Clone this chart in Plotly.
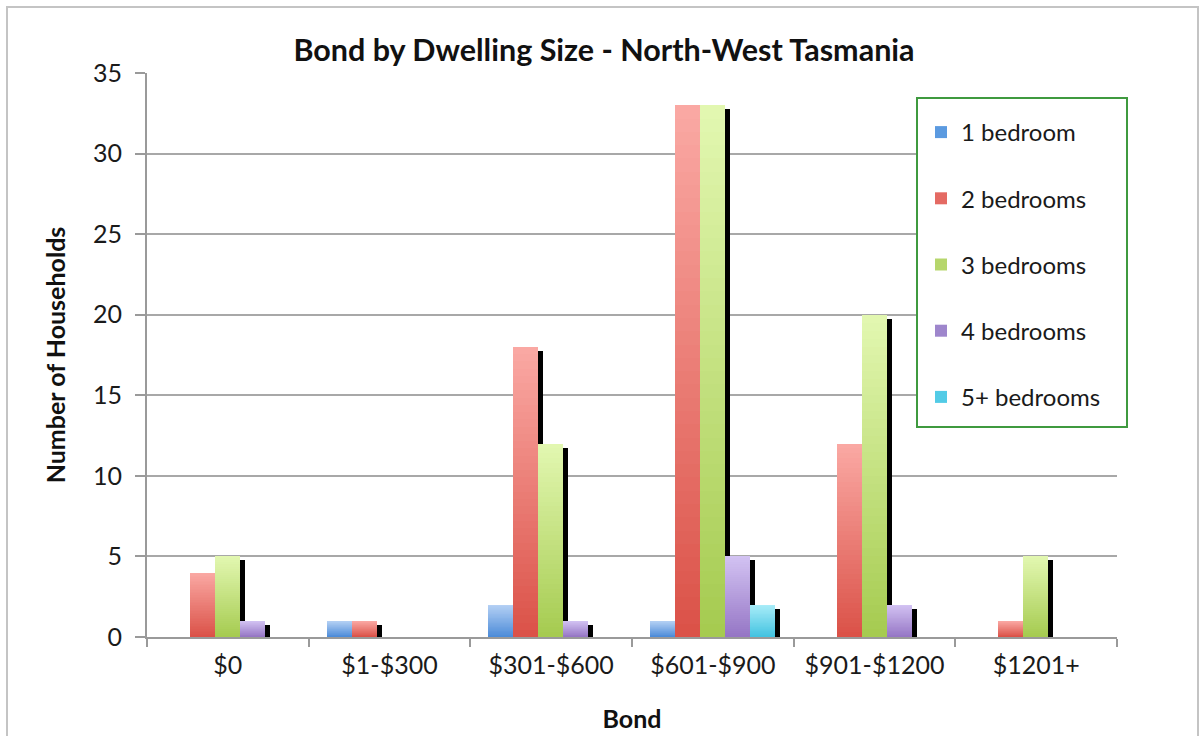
import plotly.graph_objects as go

# Bond ranges and household counts per dwelling size
categories = ["$0", "$1-$300", "$301-$600", "$601-$900", "$901-$1200", "$1201+"]
series_names = ["1 bedroom", "2 bedrooms", "3 bedrooms", "4 bedrooms", "5+ bedrooms"]
one_bed = [0, 1, 2, 1, 0, 0]
two_bed = [4, 1, 18, 33, 12, 1]
three_bed = [5, 0, 12, 33, 20, 5]
four_bed = [1, 0, 1, 5, 2, 0]
five_plus = [0, 0, 0, 2, 0, 0]
y_ticks = [0, 5, 10, 15, 20, 25, 30, 35]

series_values = [one_bed, two_bed, three_bed, four_bed, five_plus]
# (top colour, bottom colour) of each bar's vertical gradient
gradients = [
    ("#b4d0f4", "#4a8ad8"),
    ("#faa8a3", "#da5046"),
    ("#e2f7b0", "#a4ca4e"),
    ("#d2c2f2", "#9474c4"),
    ("#a8ecf8", "#40c2e0"),
]
legend_colors = ["#5b9ae0", "#e46a63", "#b6d66c", "#9e86cc", "#52cbe6"]

FONT = "Lato"
BAR_W = 0.1546
FIRST_OFF = -0.388
SHADOW_DX = 0.031
SHADOW_DY = 0.25
STEPS = 40


def hex_to_rgb(h):
    h = h.lstrip("#")
    return tuple(int(h[i:i + 2], 16) for i in (0, 2, 4))


def mix(c_top, c_bot, t):
    a, b = hex_to_rgb(c_top), hex_to_rgb(c_bot)
    r = [round(b[i] + (a[i] - b[i]) * t) for i in range(3)]
    return "rgb({},{},{})".format(*r)


fig = go.Figure()

# drop shadows, drawn first so neighbouring bars cover them
for i, vals in enumerate(series_values):
    fig.add_trace(go.Bar(
        x=categories, y=vals, base=[-SHADOW_DY] * len(vals),
        width=BAR_W, offset=FIRST_OFF + i * BAR_W + SHADOW_DX,
        marker=dict(color="#000000", line=dict(width=0)),
        showlegend=False, hoverinfo="skip",
    ))

# gradient bars: full-height light layer first, then ever shorter darker layers
for i, (name, vals) in enumerate(zip(series_names, series_values)):
    top, bot = gradients[i]
    for j in range(STEPS, 0, -1):
        frac = j / STEPS
        fig.add_trace(go.Bar(
            x=categories, y=[v * frac for v in vals],
            width=BAR_W, offset=FIRST_OFF + i * BAR_W,
            marker=dict(color=mix(top, bot, frac), line=dict(width=0)),
            showlegend=False, legendgroup=name,
            hoverinfo="skip" if j < STEPS else None,
            name=name,
        ))
    # legend swatch
    fig.add_trace(go.Bar(
        x=[None], y=[None], name=name, legendgroup=name,
        marker=dict(color=legend_colors[i], line=dict(width=0)),
        showlegend=True,
    ))

# plot area: left 147px, right 1117px, top 73px, bottom 637px
L, R, T, B = 147, 1117, 73, 637
W, H = 1201, 736
pw, ph = R - L, B - T


def px(xp):
    return (xp - L) / pw


def py(yp):
    return (B - yp) / ph


fig.update_layout(
    width=W, height=H,
    margin=dict(l=L, r=W - R, t=T, b=H - B, pad=0, autoexpand=False),
    barmode="overlay",
    bargap=0,
    paper_bgcolor="white",
    plot_bgcolor="white",
    font=dict(family=FONT, color="#1a1a1a"),
    title=dict(
        text="<b>Bond by Dwelling Size - North-West Tasmania</b>",
        x=px(604), xref="paper", xanchor="center",
        y=1 - 50 / H, yref="container", yanchor="middle",
        font=dict(family=FONT, size=30.5, color="#111111"),
    ),
    xaxis=dict(
        type="category",
        categoryorder="array", categoryarray=categories,
        range=[-0.5, len(categories) - 0.5],
        automargin=False,
        showgrid=False,
        showline=True, linecolor="#9a9a9a", linewidth=2,
        ticks="outside", tickson="boundaries", ticklen=8,
        tickcolor="#9a9a9a", tickwidth=2,
        ticklabelstandoff=5,
        tickfont=dict(family=FONT, size=25, color="#1a1a1a"),
        title=dict(text="<b>Bond</b>", standoff=32,
                   font=dict(family=FONT, size=25, color="#111111")),
        fixedrange=True,
    ),
    yaxis=dict(
        range=[0, 35],
        tickvals=y_ticks,
        automargin=False,
        showgrid=True, gridcolor="#a8a8a8", gridwidth=1.5,
        zeroline=False,
        showline=True, linecolor="#9a9a9a", linewidth=2,
        ticks="outside", ticklen=10, tickcolor="#9a9a9a", tickwidth=2,
        ticklabelstandoff=8,
        tickfont=dict(family=FONT, size=25, color="#1a1a1a"),
        title=dict(text="<b>Number of Households</b>", standoff=20,
                   font=dict(family=FONT, size=25, color="#111111")),
        fixedrange=True,
    ),
    legend=dict(
        x=px(921), xanchor="left",
        y=py(110), yanchor="top",
        bgcolor="rgba(0,0,0,0)",
        borderwidth=0,
        font=dict(family=FONT, size=24, color="#1a1a1a"),
        traceorder="grouped",
        tracegroupgap=32,
        itemwidth=30,
        itemsizing="constant",
    ),
    shapes=[
        # outer chart frame
        dict(type="rect", xref="paper", yref="paper",
             x0=px(7), x1=px(1198), y0=py(745), y1=py(7),
             line=dict(color="#c4c4c4", width=2), layer="below"),
        # legend box
        dict(type="rect", xref="paper", yref="paper",
             x0=px(917), x1=px(1127), y0=py(427), y1=py(98),
             line=dict(color="#3f9a3f", width=2), fillcolor="white",
             layer="above"),
    ],
)

fig.write_html("out.html")
